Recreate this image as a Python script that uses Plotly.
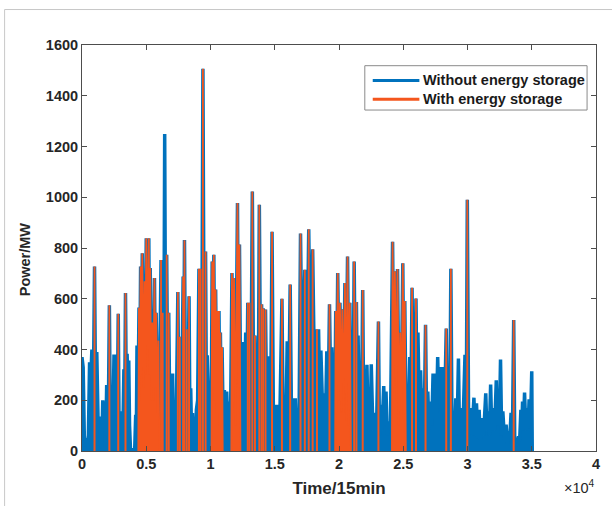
import plotly.graph_objects as go

# ---------------- data ----------------
# "Without energy storage" : time index (15-min steps) and power (MW)
t_without = [0, 90, 180, 280, 385, 480, 590, 680, 770, 870, 975, 1060, 1150, 1250, 1360, 1410, 1460, 1540,
             1615, 1700, 1795, 1860, 1920, 2030, 2130, 2210, 2300, 2400, 2490, 2570, 2660, 2740, 2820, 2890,
             2950, 3050, 3110, 3180, 3260, 3320, 3385, 3450, 3510, 3570, 3640, 3700, 3770, 3850, 4100, 4180,
             4230, 4280, 4360, 4435, 4500, 4560, 4620, 4690, 4780, 4870, 4940, 5000, 5100, 5200, 5250, 5310,
             5380, 5460, 5550, 5640, 5700, 5770, 5860, 5950, 6050, 6150, 6210, 6280, 6360, 6435, 6510, 6590,
             6660, 6750, 6830, 6920, 7000, 7050, 7110, 7180, 7320, 7460, 7540, 7615, 7740, 7870, 7920, 7975,
             8060, 8150, 8240, 8330, 8400, 8460, 8530, 8600, 8690, 8770, 8830, 8900, 9000, 9100, 9180, 9230,
             9320, 9410, 9510, 9615, 9680, 9745, 9870, 10000, 10060, 10130, 10200, 10260, 10320, 10400, 10470,
             10540, 10600, 10660, 10720, 10770, 10840, 10900, 10990, 11080, 11150, 11260, 11360, 11460, 11560,
             11670, 11750, 11830, 11960, 12100, 12180, 12255, 12340, 12430, 12510, 12590, 12670, 12740, 12820,
             12900, 12970, 13030, 13140, 13255, 13350, 13460, 13560, 13640, 13720, 13800, 13890, 13975, 14050,
             14100, 14200, 14280, 14360, 14430, 14490, 14560, 14680, 14790, 14900, 15000, 15100, 15200, 15380,
             15560, 15660, 15760, 15870, 15970, 16080, 16200, 16310, 16410, 16500, 16600, 16700, 16800, 16880,
             17005, 17150, 17340, 17480, 17645, 17800, 17950, 18100, 18285, 18350, 18410, 18500, 18590, 18730,
             18870, 18960, 19050, 19160, 19260, 19350, 19435, 19540, 19640, 19700, 19745, 19820, 19900, 19990,
             20075, 20160, 20255, 20360, 20460, 20560, 20665, 20750, 20845, 20930, 21025, 21100, 21180, 21270,
             21355, 21420, 21485, 21580, 21665, 21760, 21845, 21920, 22000, 22090, 22175, 22270, 22355, 22430,
             22510, 22640, 22765, 22920, 23070, 23150, 23225, 23350, 23480, 23570, 23660, 23750, 23840, 24000,
             24170, 24260, 24350, 24450, 24555, 24660, 24760, 24860, 24965, 25040, 25120, 25220, 25325, 25410,
             25505, 25600, 25685, 25760, 25835, 25910, 25990, 26070, 26145, 26250, 26350, 26440, 26530, 26630,
             26735, 26820, 26910, 27010, 27115, 27220, 27320, 27410, 27500, 27590, 27680, 27760, 27835, 27940,
             28040, 28200, 28345, 28440, 28525, 28610, 28705, 28800, 28910, 29000, 29090, 29190, 29295, 29380,
             29470, 29640, 29805, 29900, 29985, 30090, 30190, 30340, 30500, 30600, 30700, 30800, 30905, 31000,
             31085, 31250, 31420, 31510, 31600, 31700, 31800, 31890, 31980, 32110, 32240, 32320, 32390, 32480,
             32570, 32660, 32750, 32880, 33005, 33100, 33185, 33290, 33390, 33490, 33595, 33680, 33770, 33870,
             33975, 34060, 34155, 34220, 34285, 34360, 34440, 34540, 34645, 34720, 34795, 34900, 35000, 35040]
p_without = [370, 330, 60, 20, 50, 10, 350, 280, 400, 150, 727, 200, 390, 120, 136, 20, 45, 10,
             200, 120, 195, 60, 260, 40, 574, 50, 170, 90, 380, 300, 380, 100, 541, 60,
             156, 90, 150, 60, 322, 150, 623, 200, 383, 250, 357, 100, 10, 5, 5, 143,
             80, 416, 200, 565, 300, 727, 400, 779, 350, 669, 400, 838, 500, 838, 400, 721,
             300, 506, 300, 682, 350, 545, 250, 435, 300, 753, 350, 545, 200, 1249, 300, 773,
             300, 545, 150, 305, 200, 305, 100, 156, 60, 627, 150, 450, 100, 688, 300, 831,
             200, 480, 150, 610, 100, 247, 60, 150, 20, 65, 30, 162, 200, 718, 250, 718,
             300, 1506, 300, 786, 200, 377, 150, 247, 150, 747, 400, 773, 300, 636, 250,
             552, 300, 552, 200, 467, 150, 409, 100, 240, 100, 234, 80, 195, 120,
             701, 300, 682, 200, 977, 300, 814, 250, 429, 200, 429, 250, 467, 200,
             584, 250, 584, 200, 1023, 250, 455, 150, 364, 200, 970, 300, 578, 300,
             562, 250, 558, 200, 370, 200, 373, 150, 864, 100, 182, 80, 182, 80,
             600, 80, 208, 100, 432, 150, 656, 100, 208, 80, 208, 50, 91, 40,
             857, 250, 714, 200, 874, 250, 795, 250, 480, 300, 480, 200, 396, 150,
             227, 150, 393, 200, 578, 250, 409, 200, 377, 250, 552, 300, 701, 350,
             584, 350, 558, 300, 662, 300, 766, 300, 584, 150, 303, 200, 747, 250,
             587, 250, 455, 150, 331, 200, 634, 150, 305, 150, 340, 80, 143, 80,
             342, 80, 150, 80, 510, 60, 182, 80, 256, 100, 234, 60, 117, 80,
             825, 300, 708, 300, 717, 200, 467, 250, 740, 250, 591, 100, 234, 150,
             370, 200, 643, 250, 470, 250, 601, 200, 467, 150, 318, 120, 247, 100,
             497, 100, 234, 80, 195, 100, 305, 150, 305, 150, 370, 200, 331, 150,
             331, 100, 483, 50, 130, 40, 718, 50, 143, 60, 208, 80, 364, 60,
             169, 80, 379, 100, 990, 80, 169, 60, 210, 60, 188, 50, 162, 40,
             130, 60, 227, 80, 156, 60, 262, 80, 169, 80, 279, 100, 221, 100,
             360, 60, 156, 40, 104, 30, 78, 50, 150, 30, 516, 20, 52, 20,
             58, 40, 162, 80, 195, 100, 230, 80, 169, 90, 204, 100, 314, 0]

# "With energy storage" : isolated peaks (time, MW)
t_with_peaks = [975, 2130, 2820, 3385, 6150, 6280, 6590, 6750, 7460, 7615, 7870, 7975, 8150, 8330,
                9100, 9230, 9410, 9615, 12900, 13030, 13255, 13460, 13800, 13975, 14100, 14280, 14790,
                15560, 16200, 17005, 17340, 17645, 17950, 18285, 19260, 21180, 21355, 21845, 23070,
                25685, 25990, 26735, 28345, 28705, 29985, 33595]
p_with_peaks = [727, 574, 541, 623, 753, 545, 773, 545, 627, 450, 688, 831, 480, 610,
                718, 718, 1506, 786, 584, 584, 1023, 455, 970, 578, 562, 558, 864,
                600, 656, 857, 714, 874, 795, 480, 578, 747, 587, 634, 510,
                643, 601, 497, 483, 718, 990, 516]

# "With energy storage" : dense periods (time, MW)
t_with_blocks = [
    [4380, 4435, 4500, 4560, 4620, 4690, 4780, 4870, 4940, 5000, 5100, 5200, 5250, 5310, 5380, 5460,
     5550, 5640, 5700, 5770, 5860, 5950, 6020],
    [10080, 10130, 10200, 10260, 10320, 10400, 10470, 10540, 10600, 10660, 10720, 10770, 10840, 10900, 10950],
    [11620, 11670, 11750, 11830, 11960, 12100, 12180, 12255, 12330],
    [19700, 19745, 19820, 19900, 19990, 20075, 20160, 20255, 20360, 20460, 20560, 20665, 20750, 20845, 20930],
    [24120, 24170, 24260, 24350, 24450, 24555, 24660, 24760, 24860, 24965, 25040, 25120, 25200],
]
p_with_blocks = [
    [0, 565, 200, 727, 300, 779, 250, 669, 300, 838, 400, 838, 300, 721, 200, 506,
     200, 682, 250, 545, 150, 435, 0],
    [0, 747, 250, 773, 200, 636, 150, 552, 150, 552, 100, 467, 60, 409, 0],
    [0, 701, 150, 682, 100, 977, 250, 814, 0],
    [0, 552, 150, 701, 200, 584, 150, 558, 150, 662, 120, 766, 100, 584, 0],
    [0, 825, 250, 708, 200, 717, 100, 467, 120, 740, 150, 591, 0],
]

x_tick_vals = [0, 5000, 10000, 15000, 20000, 25000, 30000, 35000, 40000]
x_tick_text = ["0", "0.5", "1", "1.5", "2", "2.5", "3", "3.5", "4"]
y_tick_vals = [0, 200, 400, 600, 800, 1000, 1200, 1400, 1600]
series_names = ["Without energy storage", "With energy storage"]

# ---------------- build ----------------
BLUE = "#0072BD"
ORANGE = "#F4561D"
SPIKE_HALF = 8  # half width of an isolated peak (style)

ox, oy = [], []
for t, p in zip(t_with_peaks, p_with_peaks):
    ox += [t - SPIKE_HALF, t, t + SPIKE_HALF, None]
    oy += [0, p, 0, None]
for tb, pb in zip(t_with_blocks, p_with_blocks):
    ox += list(tb) + [None]
    oy += list(pb) + [None]

fig = go.Figure()
fig.add_trace(go.Scatter(
    x=t_without, y=p_without, mode="lines", name=series_names[0], showlegend=False,
    line=dict(color=BLUE, width=3.5), fill="tozeroy", fillcolor=BLUE))
fig.add_trace(go.Scatter(
    x=ox, y=oy, mode="lines", name=series_names[1], connectgaps=False, showlegend=False,
    line=dict(color=ORANGE, width=1.8), fill="tozeroy", fillcolor=ORANGE))

FONT = "Liberation Sans, Arial, sans-serif"
AX = "#4d4d4d"
TXT = "#262626"


def px_x(px):
    return (px - 82) / 518.0


def px_y(py):
    return (457 - py) / 412.0


fig.update_layout(
    width=612, height=506,
    margin=dict(l=82, r=12, t=45, b=49),
    paper_bgcolor="white", plot_bgcolor="white",
    font=dict(family=FONT, size=14, color=TXT),
    showlegend=False,
    xaxis=dict(range=[0, 40000], tickvals=x_tick_vals, ticktext=x_tick_text,
               showgrid=False, zeroline=False, showline=True, linecolor=AX, linewidth=1,
               mirror="allticks", ticks="inside", ticklen=5, tickcolor=AX,
               tickfont=dict(family=FONT, size=14.5, color=TXT, weight="bold"),
               title=dict(text="Time/15min", standoff=10,
                          font=dict(family=FONT, size=17, color=TXT, weight="bold"))),
    yaxis=dict(range=[0, 1600], tickvals=y_tick_vals,
               showgrid=False, zeroline=False, showline=True, linecolor=AX, linewidth=1,
               mirror="allticks", ticks="inside", ticklen=5, tickcolor=AX,
               tickfont=dict(family=FONT, size=14.5, color=TXT, weight="bold")),
)

# y-axis title
fig.add_annotation(text="Power/MW", xref="paper", yref="paper", x=px_x(24), y=px_y(262),
                   xanchor="center", yanchor="middle", textangle=-90, showarrow=False,
                   font=dict(family=FONT, size=14.5, color=TXT, weight="bold"))

# exponent label
fig.add_annotation(text="\u00d710<sup>4</sup>", xref="paper", yref="paper", x=px_x(601), y=px_y(482),
                   xanchor="right", yanchor="top", showarrow=False,
                   font=dict(family=FONT, size=14.5, color=TXT))

# legend box (drawn)
fig.add_shape(type="rect", xref="paper", yref="paper", x0=px_x(367), x1=px_x(591),
              y0=px_y(111), y1=px_y(66), line=dict(color="#8a8a8a", width=1), fillcolor="white",
              layer="above")
for name, col, py in [(series_names[0], BLUE, 81), (series_names[1], ORANGE, 100)]:
    fig.add_shape(type="line", xref="paper", yref="paper", x0=px_x(375), x1=px_x(422),
                  y0=px_y(py), y1=px_y(py), line=dict(color=col, width=3), layer="above")
    fig.add_annotation(text=name, xref="paper", yref="paper", x=px_x(424), y=px_y(py),
                       xanchor="left", yanchor="middle", showarrow=False,
                       font=dict(family=FONT, size=14.5, color="#1a1a1a", weight="bold"))

# outer light frame of the figure picture
fig.add_shape(type="line", xref="paper", yref="paper", x0=px_x(4), x1=px_x(4), y0=px_y(520), y1=px_y(9),
              line=dict(color="#c8c8c8", width=1))
fig.add_shape(type="line", xref="paper", yref="paper", x0=px_x(4), x1=px_x(620), y0=px_y(9), y1=px_y(9),
              line=dict(color="#c8c8c8", width=1))

fig.write_html("out.html")
